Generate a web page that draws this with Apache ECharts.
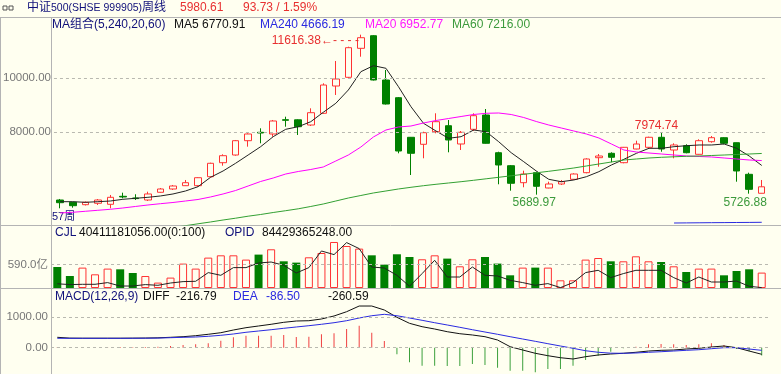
<!DOCTYPE html>
<html><head><meta charset="utf-8">
<script src="https://cdn.jsdelivr.net/npm/echarts@6/dist/echarts.min.js"></script>
<style>html,body{margin:0;padding:0;background:#fffff0;}#c{width:781px;height:374px;}</style>
</head><body><div id="c"></div>
<script>
const categories = ['1','2','3','4','5','6','7','8','9','10','11','12','13','14','15','16','17','18','19','20','21','22','23','24','25','26','27','28','29','30','31','32','33','34','35','36','37','38','39','40','41','42','43','44','45','46','47','48','49','50','51','52','53','54','55','56','57'];
const openP = [5492,5407,5318,5370,5333,5629,5567,5492,5778,5900,6022,6022,6355,6874,7159,7689,8000,7937,8467,8463,8270,8704,9715,10037,11111,11578,9937,9282,7815,7556,8022,8244,7567,8111,8641,7244,6763,6133,6504,5937,6085,6259,6504,7059,7222,6874,7381,7444,7815,7344,7504,7185,7652,7800,7615,6444,5741];
const closeP = [5392,5281,5407,5492,5592,5604,5544,5715,5900,6011,6133,6318,6852,7133,7689,7937,7974,8419,8444,8207,8726,9752,9974,11134,11504,9937,9048,7307,7222,7985,8393,7715,8000,8615,7593,6789,6111,6455,6000,6085,6170,6455,7011,7122,7074,7444,7567,7815,7381,7530,7244,7689,7800,7593,6567,5886.88,5980.61];
const lowP = [5185,5207,5289,5307,5185,5555,5492,5455,5763,5863,6011,5985,6333,6763,7133,7467,7593,7837,8207,7900,8233,8678,9382,10000,10800,9919,9030,7222,6418,7037,7963,7259,7344,8048,7581,6074,5837,5963,5689.97,5926,6048,6233,6481,6726,6889,6852,7370,7407,7281,7037,7222,7174,7615,7556,6170,5726.88,5738];
const highP = [5530,5418,5438,5529,5678,5763,5704,5800,5937,6048,6233,6333,6874,7185,7715,7963,8148,8456,8578,8481,8889,9815,10641,11171,11616.38,11600,10308,9307,7826,8022,8704,8456,8048,8704,8863,7281,6789,6578,6541,6170,6233,6481,7037,7196,7259,7456,7689,7837,7974.74,7593,7556,7741,7863,7815,7620,6504,6233];
const ma5 = [5429,5429,5407,5429,5455,5518,5555,5592,5641,5715,5826,5985,6333,6567,6852,7159,7467,7837,8111,8207,8393,8741,9074,9567,10245,10467,10371,9689,8948,8333,8048,7778,7837,8085,8022,7652,7244,6911,6567,6259,6170,6233,6355,6541,6789,7000,7222,7407,7407,7467,7504,7530,7530,7567,7407,7122,6770.91];
const ma20 = [5011,5037,5074,5111,5148,5196,5252,5307,5355,5400,5455,5511,5604,5715,5844,6011,6178,6307,6455,6548,6622,6715,6937,7159,7455,7826,8085,8196,8233,8344,8437,8511,8585,8659,8704,8715,8659,8548,8400,8270,8159,8048,7937,7789,7567,7344,7270,7233,7196,7159,7122,7104,7085,7048,7011,6974,6952.77];
const ma60 = ['-','-','-','-','-','-','-','-',4403,4470,4540,4611,4678,4751,4818,4892,4955,5029,5096,5166,5252,5344,5455,5566,5659,5752,5826,5900,5963,6022,6074,6122,6170,6222,6278,6333,6389,6444,6500,6555,6615,6678,6752,6826,6900,6974,7011,7048,7074,7093,7111,7122,7141,7159,7178,7196,7216.00];
const ma240 = ['-','-','-','-','-','-','-','-','-','-','-','-','-','-','-','-','-','-','-','-','-','-','-','-','-','-','-','-','-','-','-','-','-','-','-','-','-','-','-','-','-','-','-','-','-','-','-','-','-',4640,4644,4648,4652,4655,4659,4662,4666.19];
const volume = [529,302,514,345,489,471,378,302,136,262,615,489,766,824,824,716,842,976,673,640,774,882,1160,1059,993,824,590,850,782,724,824,741,547,724,782,615,320,514,514,514,194,194,716,756,673,673,799,673,655,547,403,489,489,320,429,471,388];
const volLine = [106,86,93,93,136,50,50,86,68,126,161,169,388,320,514,514,630,655,572,378,514,933,842,1145,993,529,504,320,43,363,698,277,277,529,320,303,194,136,68,111,10,136,388,446,262,363,446,446,446,262,126,277,151,151,176,43,10];
const macdHist = [25,20,20,25,25,20,15,20,30,55,88,110,143,230,340,395,395,395,417,352,362,441,473,615,724,493,220,-217,-480,-592,-592,-602,-602,-536,-569,-658,-757,-757,-811,-701,-701,-592,-405,-263,-132,-20,33,110,121,110,88,110,143,88,-40,-120,-260.59];
const diff = [342,315,312,312,312,312,315,318,325,342,362,395,441,493,582,658,714,770,835,878,888,944,1043,1184,1371,1371,1240,1000,802,691,615,526,460,418,362,253,33,-76,-184,-263,-329,-372,-296,-240,-207,-184,-151,-109,-86,-76,-43,-20,23,56,0,-109,-216.79];
const dea = [309,309,309,309,309,309,310,312,316,329,342,352,375,408,451,507,549,592,638,681,724,770,822,888,977,1052,1098,1052,977,901,822,747,671,592,516,441,362,286,210,132,56,-20,-100,-150,-180,-184,-174,-151,-132,-109,-86,-66,-33,0,0,-43,-86.50];
const mainTicks = [8000, 10000];
const volTicks = [590];
const macdTicks = [0, 1000];

const BG = '#fffff0', RED = '#ff3333', GREEN = '#008000';
const FONT = '"Liberation Sans", Arial, "Noto Sans CJK SC", sans-serif';
const chart = echarts.init(document.getElementById('c'), null, {renderer: 'canvas'});

const candles = categories.map((_, i) => [openP[i], closeP[i], lowP[i], highP[i]]);
const volItems = volume.map((v, i) => {
  const up = closeP[i] > openP[i];
  return {value: v, itemStyle: up ? {color: BG, borderColor: RED, borderWidth: 1} : {color: GREEN, borderColor: GREEN, borderWidth: 0}};
});
const grids = [
  {left: 51, right: 13, top: 18, height: 207},
  {left: 51, right: 13, top: 226, height: 62},
  {left: 51, right: 13, top: 290, height: 84}
];
const xAxes = grids.map((g, i) => ({type: 'category', gridIndex: i, data: categories, boundaryGap: true, show: false}));
function yAx(i, min, max, ticks, fmt) {
  return {type: 'value', gridIndex: i, min, max, axisLine: {show: false}, axisTick: {show: false}, splitLine: {show: false},
    axisLabel: {customValues: ticks, formatter: fmt, color: '#777', fontSize: 11.5, fontFamily: FONT, margin: 3}};
}
const dash = (vals) => ({silent: true, symbol: ['none', 'none'], animation: false, label: {show: false},
  lineStyle: {type: [3, 3], color: '#b9b9b0', width: 1}, data: vals.map(v => ({yAxis: v}))});

const lbl = (txt, col) => ({show: true, formatter: txt, color: col, fontSize: 12, fontFamily: FONT});
const mp = {
  symbol: 'circle', symbolSize: 0, animation: false,
  data: [
    {coord: [24, highP[24]], label: Object.assign(lbl(highP[24].toFixed(2) + '←- - - -', '#e83030'), {position: 'left', distance: 2, offset: [0, 6]})},
    {coord: [48, highP[48]], label: Object.assign(lbl(highP[48].toFixed(2), '#e83030'), {position: 'top', distance: 1, offset: [-5, 0]})},
    {coord: [38, lowP[38]], label: Object.assign(lbl(lowP[38].toFixed(2), '#3c9a3c'), {position: 'bottom', distance: 2, offset: [-2, 0]})},
    {coord: [55, lowP[55]], label: Object.assign(lbl(lowP[55].toFixed(2), '#3c9a3c'), {position: 'bottom', distance: 3, offset: [-4, 0]})}
  ]
};
const lineS = (name, data, color, xi) => ({name, type: 'line', data, xAxisIndex: xi, yAxisIndex: xi, symbol: 'none', smooth: false,
  lineStyle: {color, width: 1}, itemStyle: {color}, silent: true, z: 3});

function txt(x, y, text, fill, size) {
  return {type: 'text', x, y, silent: true, style: {text, fill, fontSize: size || 12, fontFamily: FONT, verticalAlign: 'middle'}};
}
function hline(y, c) { return {type: 'line', silent: true, shape: {x1: 0, y1: y, x2: 781, y2: y}, style: {stroke: c || '#b4b4b4', lineWidth: 1}}; }
function vline(x, y1, y2) { return {type: 'line', silent: true, shape: {x1: x, y1, x2: x, y2}, style: {stroke: '#b4b4b4', lineWidth: 1}}; }
const NAVY = '#10107a';
const last = categories.length - 1;
const chg = closeP[last] - closeP[last - 1];
const graphics = [
  hline(17.5), hline(225.5), hline(288.5), vline(51.5, 17.5, 374), vline(0.5, 17.5, 374),
  {type: 'rect', silent: true, shape: {x: 3, y: 6, width: 4, height: 4}, style: {fill: 'none', stroke: '#555', lineWidth: 1}},
  {type: 'rect', silent: true, shape: {x: 9, y: 6, width: 4, height: 4}, style: {fill: 'none', stroke: '#555', lineWidth: 1}},
  {type: 'text', x: 27, y: 8, silent: true, style: {text: '{a|中证}{b|500(SHSE 999905)}{a|周线}', verticalAlign: 'middle',
    rich: {a: {fontSize: 12, fill: NAVY, fontFamily: FONT}, b: {fontSize: 10.5, fill: NAVY, fontFamily: FONT}}}},
  txt(180, 8, closeP[last].toFixed(2), '#e83030'),
  txt(243, 8, chg.toFixed(2) + ' / ' + (chg / closeP[last - 1] * 100).toFixed(2) + '%', '#e83030'),
  txt(52, 25, 'MA组合(5,240,20,60)', NAVY),
  txt(174, 25, 'MA5 ' + ma5[last].toFixed(2), '#111'),
  txt(260, 25, 'MA240 ' + ma240[last].toFixed(2), '#2a2ae0'),
  txt(365, 25, 'MA20 ' + ma20[last].toFixed(2), '#ff1aff'),
  txt(452, 25, 'MA60 ' + ma60[last].toFixed(2), '#3c9a3c'),
  txt(55, 233, 'CJL', NAVY),
  txt(79, 233, '40411181056.00(0:100)', '#111'),
  txt(225, 233, 'OPID', NAVY),
  txt(262, 233, '84429365248.00', '#111'),
  txt(55, 297, 'MACD(12,26,9)', NAVY),
  txt(143, 297, 'DIFF', '#111'),
  txt(176, 297, diff[last].toFixed(2), '#111'),
  txt(233, 297, 'DEA', '#2a2ae0'),
  txt(266, 297, dea[last].toFixed(2), '#2a2ae0'),
  txt(328, 297, macdHist[last].toFixed(2), '#111'),
  txt(52, 217, '57周', NAVY, 11)
];

chart.setOption({
  animation: false,
  backgroundColor: BG,
  grid: grids,
  xAxis: xAxes,
  yAxis: [
    yAx(0, 4566, 12234, mainTicks, v => v.toFixed(2)),
    yAx(1, 0, 1563, volTicks, v => v.toFixed(1) + '亿'),
    yAx(2, -865, 1898, macdTicks, v => v.toFixed(2))
  ],
  graphic: graphics,
  series: [
    {type: 'candlestick', xAxisIndex: 0, yAxisIndex: 0, data: candles, barWidth: 7, silent: true, z: 2,
      itemStyle: {color: BG, color0: GREEN, borderColor: RED, borderColor0: GREEN, borderWidth: 1},
      markLine: dash(mainTicks), markPoint: mp},
    lineS('MA5', ma5, '#222', 0),
    lineS('MA20', ma20, '#ff00ff', 0),
    lineS('MA60', ma60, '#33a033', 0),
    lineS('MA240', ma240, '#2a2ae0', 0),
    {type: 'bar', xAxisIndex: 1, yAxisIndex: 1, data: volItems, barWidth: 8, silent: true, markLine: dash(volTicks)},
    lineS('VOLMA', volLine, '#222', 1),
    {type: 'bar', xAxisIndex: 2, yAxisIndex: 2, barWidth: 1, silent: true,
      data: macdHist.map(v => ({value: v, itemStyle: {color: v >= 0 ? '#f04040' : '#3ca03c'}})),
      markLine: dash(macdTicks)},
    lineS('DIFF', diff, '#111', 2),
    lineS('DEA', dea, '#2a2ae0', 2)
  ]
});
</script></body></html>
